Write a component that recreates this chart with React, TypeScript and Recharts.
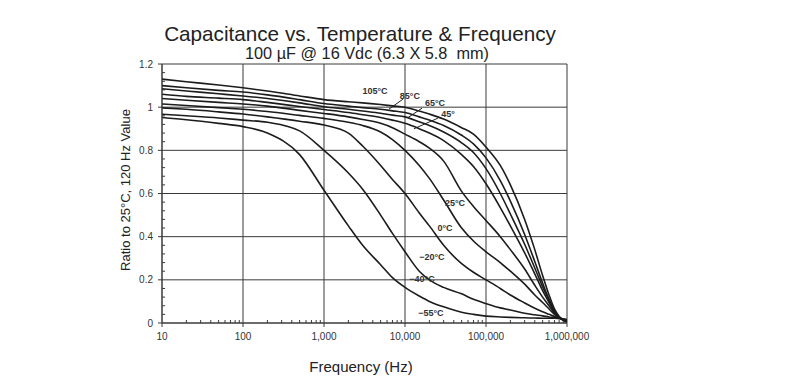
import React from 'react';
import { LineChart, Line, XAxis, YAxis, CartesianGrid, ReferenceLine, ReferenceDot } from 'recharts';

// Frequency points (Hz)
const frequencies = [10, 20, 50, 100, 200, 500, 1000, 2000, 3000, 5000, 7000, 10000, 15000, 20000, 30000, 50000, 70000, 100000, 150000, 200000, 300000, 400000, 500000, 600000, 700000, 800000, 1000000];

// Capacitance ratio per temperature
const t105 = [1.13, 1.118, 1.103, 1.09, 1.075, 1.052, 1.035, 1.025, 1.02, 1.012, 1.006, 1.0, 0.982, 0.968, 0.945, 0.905, 0.875, 0.815, 0.73, 0.64, 0.48, 0.34, 0.22, 0.13, 0.065, 0.03, 0.003];
const t85 = [1.1, 1.09, 1.078, 1.07, 1.057, 1.035, 1.017, 1.005, 0.998, 0.99, 0.983, 0.975, 0.955, 0.94, 0.915, 0.87, 0.83, 0.765, 0.66, 0.565, 0.41, 0.285, 0.185, 0.11, 0.058, 0.028, 0.004];
const t65 = [1.085, 1.075, 1.062, 1.052, 1.04, 1.02, 1.002, 0.99, 0.982, 0.972, 0.963, 0.955, 0.932, 0.915, 0.885, 0.835, 0.79, 0.715, 0.6, 0.505, 0.365, 0.255, 0.168, 0.105, 0.055, 0.027, 0.005];
const t45 = [1.06, 1.05, 1.042, 1.035, 1.022, 1.003, 0.989, 0.975, 0.965, 0.952, 0.94, 0.925, 0.9, 0.88, 0.845, 0.78, 0.725, 0.645, 0.535, 0.45, 0.325, 0.228, 0.15, 0.095, 0.05, 0.026, 0.006];
const t25 = [1.04, 1.032, 1.022, 1.015, 1.005, 0.985, 0.971, 0.955, 0.943, 0.925, 0.905, 0.875, 0.84, 0.81, 0.75, 0.61, 0.54, 0.475, 0.4, 0.34, 0.25, 0.175, 0.12, 0.08, 0.045, 0.025, 0.008];
const t0 = [1.015, 1.008, 0.998, 0.99, 0.98, 0.962, 0.948, 0.93, 0.915, 0.885, 0.85, 0.8, 0.73, 0.67, 0.57, 0.44, 0.38, 0.33, 0.28, 0.24, 0.18, 0.13, 0.095, 0.065, 0.04, 0.024, 0.009];
const tm20 = [0.997, 0.99, 0.978, 0.968, 0.955, 0.935, 0.917, 0.88, 0.82, 0.73, 0.665, 0.6, 0.51, 0.45, 0.36, 0.275, 0.235, 0.2, 0.16, 0.13, 0.093, 0.068, 0.052, 0.04, 0.03, 0.024, 0.012];
const tm40 = [0.967, 0.96, 0.95, 0.94, 0.93, 0.89, 0.8, 0.695, 0.62, 0.5, 0.415, 0.33, 0.24, 0.2, 0.165, 0.135, 0.11, 0.09, 0.07, 0.06, 0.045, 0.038, 0.033, 0.028, 0.025, 0.022, 0.015];
const tm55 = [0.952, 0.942, 0.925, 0.91, 0.88, 0.78, 0.615, 0.45, 0.36, 0.27, 0.21, 0.165, 0.125, 0.1, 0.075, 0.05, 0.04, 0.032, 0.028, 0.026, 0.024, 0.023, 0.022, 0.022, 0.022, 0.02, 0.016];

const series = [
  { key: 't105', values: t105 },
  { key: 't85', values: t85 },
  { key: 't65', values: t65 },
  { key: 't45', values: t45 },
  { key: 't25', values: t25 },
  { key: 't0', values: t0 },
  { key: 'tm20', values: tm20 },
  { key: 'tm40', values: tm40 },
  { key: 'tm55', values: tm55 },
];

// Axis ticks
const xTicks = [10, 100, 1000, 10000, 100000, 1000000];
const yTicks = [0, 0.2, 0.4, 0.6, 0.8, 1, 1.2];
const xMinorTicks = [2, 3, 4, 5, 6, 7, 8, 9].flatMap((m) => [10, 100, 1000, 10000, 100000].map((d) => m * d));
const yMinorTicks = [0.04, 0.08, 0.12, 0.16, 0.24, 0.28, 0.32, 0.36, 0.44, 0.48, 0.52, 0.56, 0.64, 0.68, 0.72, 0.76, 0.84, 0.88, 0.92, 0.96, 1.04, 1.08, 1.12, 1.16];

// Curve annotations (anchored in data space)
const curveLabels = [
  { text: '105°C', f: 4270, v: 1.074 },
  { text: '85°C', f: 11500, v: 1.051 },
  { text: '65°C', f: 23500, v: 1.019 },
  { text: '45°', f: 34000, v: 0.968 },
  { text: '25°C', f: 41400, v: 0.556 },
  { text: '0°C', f: 31200, v: 0.44 },
  { text: '−20°C', f: 21500, v: 0.306 },
  { text: '−40°C', f: 16200, v: 0.204 },
  { text: '−55°C', f: 20900, v: 0.046 },
];
const leaders = [
  { f1: 9430, v1: 1.037, f2: 6340, v2: 0.991 },
  { f1: 16200, v1: 0.995, f2: 10900, v2: 0.952 },
  { f1: 25500, v1: 0.949, f2: 12900, v2: 0.9 },
];

const data = frequencies.map((f, i) => {
  const row: Record<string, number> = { f };
  series.forEach((s) => {
    row[s.key] = s.values[i];
  });
  return row;
});

const FONT = '"Liberation Sans", Arial, Helvetica, sans-serif';
const fmtX = (v: number) => v.toLocaleString('en-US');
const fmtY = (v: number) => String(v);

export default function App() {
  return (
    <div style={{ position: 'relative', width: 800, height: 382, background: '#fff', fontFamily: FONT, overflow: 'hidden' }}>
      <style>{'body{margin:0;background:#fff}'}</style>
      <LineChart
        width={800}
        height={382}
        data={data}
        margin={{ top: 64, right: 233, left: 102, bottom: 29 }}
      >
        <CartesianGrid stroke="#3a3a3a" strokeWidth={1} />
        <XAxis
          dataKey="f"
          type="number"
          scale="log"
          domain={[10, 1000000]}
          ticks={xTicks}
          tickFormatter={fmtX}
          allowDataOverflow
          height={30}
          tickSize={4}
          tickMargin={6}
          stroke="#3a3a3a"
          tick={{ fontSize: 10, fill: '#333', fontFamily: FONT }}
        />
        <YAxis
          type="number"
          domain={[0, 1.2]}
          ticks={yTicks}
          tickFormatter={fmtY}
          allowDataOverflow
          width={60}
          tickSize={4}
          tickMargin={5}
          stroke="#3a3a3a"
          tick={{ fontSize: 10, fill: '#333', fontFamily: FONT }}
        />
        {xMinorTicks.map((m) => (
          <ReferenceLine key={'xm' + m} segment={[{ x: m, y: 0 }, { x: m, y: 0.014 }]} stroke="#3a3a3a" strokeWidth={1} />
        ))}
        {yMinorTicks.map((m) => (
          <ReferenceLine key={'ym' + m} segment={[{ x: 10, y: m }, { x: 10.9, y: m }]} stroke="#3a3a3a" strokeWidth={1} />
        ))}
        {series.map((s) => (
          <Line
            key={s.key}
            dataKey={s.key}
            type="monotone"
            stroke="#1c1c1c"
            strokeWidth={1.6}
            dot={false}
            isAnimationActive={false}
          />
        ))}
        {leaders.map((l, i) => (
          <ReferenceLine key={'ld' + i} segment={[{ x: l.f1, y: l.v1 }, { x: l.f2, y: l.v2 }]} stroke="#222" strokeWidth={1} />
        ))}
        {curveLabels.map((c) => (
          <ReferenceDot
            key={c.text}
            x={c.f}
            y={c.v}
            r={0}
            fill="none"
            stroke="none"
            label={{ value: c.text, position: 'center', fontSize: 9, fontWeight: 'bold', fill: '#333', fontFamily: FONT }}
          />
        ))}
      </LineChart>
      <svg width={800} height={382} style={{ position: 'absolute', left: 0, top: 0, pointerEvents: 'none' }}>
        <text x={360} y={41} textAnchor="middle" fontSize={20.7} fill="#222" fontFamily={FONT}>
          Capacitance vs. Temperature &amp; Frequency
        </text>
        <text x={367} y={59} textAnchor="middle" fontSize={16.3} fill="#222" fontFamily={FONT} style={{ whiteSpace: 'pre' }}>
          {'100 µF @ 16 Vdc (6.3 X 5.8  mm)'}
        </text>
        <text x={130} y={190} textAnchor="middle" fontSize={13} fill="#222" fontFamily={FONT} transform="rotate(-90 130 190)">
          Ratio to 25°C, 120 Hz Value
        </text>
        <text x={361} y={372} textAnchor="middle" fontSize={15} fill="#222" fontFamily={FONT}>
          Frequency (Hz)
        </text>
      </svg>
    </div>
  );
}
